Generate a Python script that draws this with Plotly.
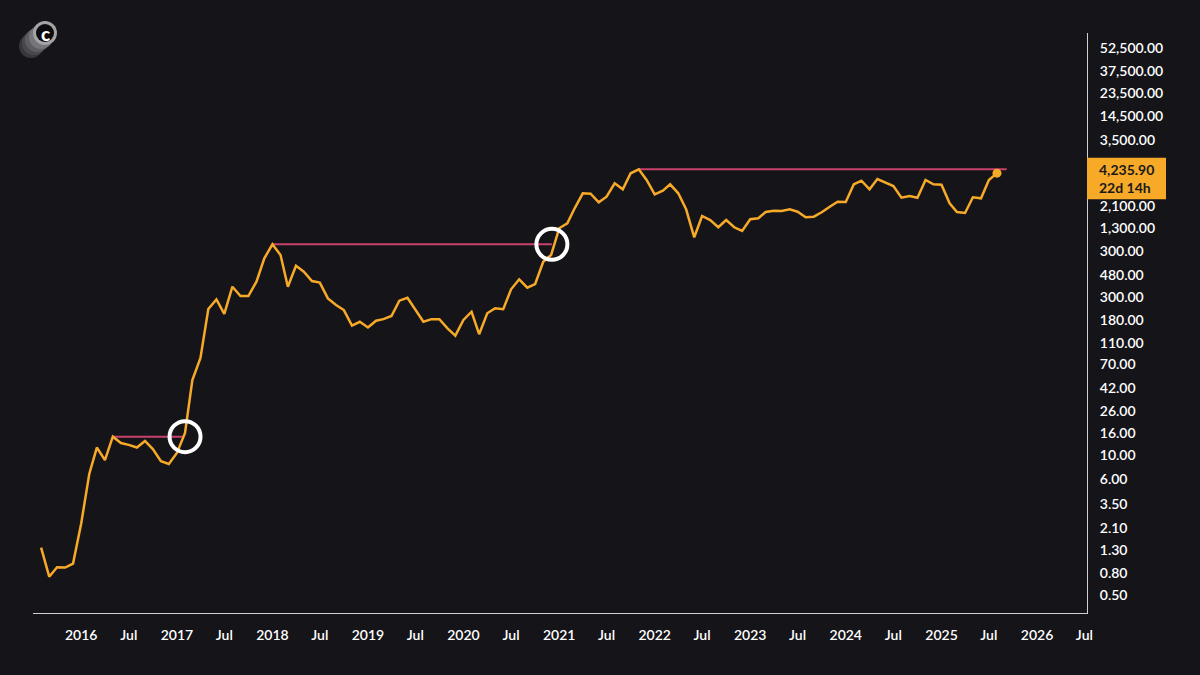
import plotly.graph_objects as go
import pandas as pd
import numpy as np

# ---------------- data (monthly closes) ----------------
start_month = "2015-08-01"
price = [
    # 2015 Aug-Dec
    1.38, 0.74, 0.905, 0.90, 0.98,
    # 2016
    2.3, 6.7, 11.8, 9.0, 14.9, 13.0, 12.5, 11.8, 13.6, 11.4, 8.8, 8.3,
    # 2017
    10.5, 16.1, 50.2, 80.5, 230, 283, 207, 371, 304, 304, 413, 682,
    # 2018
    921, 732, 371, 582, 512, 419, 405, 289, 251, 225, 161, 175,
    # 2019
    155, 179, 185, 198, 275, 293, 225, 175, 185, 185, 152, 130,
    # 2020
    182, 217, 134, 210, 234, 229, 351, 435, 363, 393, 634, 732,
    # 2021
    1298, 1445, 1994, 2750, 2725, 2267, 2557, 3408, 2997, 4224, 4601, 3658,
    # 2022
    2692, 2908, 3335, 2750, 1952, 1071, 1690, 1551, 1327, 1551, 1327, 1226,
    # 2023
    1575, 1609, 1842, 1894, 1882, 1952, 1854, 1644, 1665, 1830, 2063, 2297,
    # 2024
    2282, 3335, 3603, 2997, 3737, 3452, 3217, 2503, 2596, 2503, 3658, 3335,
    # 2025 Jan-Aug
    3306, 2219, 1842, 1803, 2524, 2471, 3658, 4235.90,
]
dates = pd.date_range(start_month, periods=len(price), freq="MS")

last_price_text = "4,235.90"
countdown_text = "22d 14h"

x_tick_dates = ["2016-01-01", "2016-07-01", "2017-01-01", "2017-07-01", "2018-01-01",
                "2018-07-01", "2019-01-01", "2019-07-01", "2020-01-01", "2020-07-01",
                "2021-01-01", "2021-07-01", "2022-01-01", "2022-07-01", "2023-01-01",
                "2023-07-01", "2024-01-01", "2024-07-01", "2025-01-01", "2025-07-01",
                "2026-01-01", "2026-07-01"]
x_tick_text = ["2016", "Jul", "2017", "Jul", "2018", "Jul", "2019", "Jul", "2020", "Jul",
               "2021", "Jul", "2022", "Jul", "2023", "Jul", "2024", "Jul", "2025", "Jul",
               "2026", "Jul"]

y_tick_vals = [0.5, 0.8, 1.3, 2.1, 3.5, 6, 10, 16, 26, 42, 70, 110, 180, 300, 480,
               800, 1300, 2100, 8600, 14500, 23500, 37500, 62000]
y_tick_text = ["0.50", "0.80", "1.30", "2.10", "3.50", "6.00", "10.00", "16.00", "26.00",
               "42.00", "70.00", "110.00", "180.00", "300.00", "480.00", "300.00",
               "1,300.00", "2,100.00", "3,500.00", "14,500.00", "23,500.00",
               "37,500.00", "52,500.00"]

resistance_start = ["2016-05-01", "2018-01-01", "2021-11-01"]
resistance_end = ["2017-01-25", "2020-12-04", "2025-09-07"]
resistance_level = [14.9, 921, 4601]

breakout_date = ["2017-02-01", "2020-12-04"]
breakout_level = [14.9, 921]

# ---------------- style ----------------
BG = "#151419"
ORANGE = "#f7a928"
PINK = "#c8406c"
AXIS = "#d0d0d4"
FONT = "Lato"
Y_RANGE = [-0.4689, 4.932]

fig = go.Figure()

for s, e, lv in zip(resistance_start, resistance_end, resistance_level):
    fig.add_trace(go.Scatter(x=[s, e], y=[lv, lv], mode="lines",
                             line=dict(color=PINK, width=2), hoverinfo="skip",
                             showlegend=False))

fig.add_trace(go.Scatter(x=dates, y=price, mode="lines",
                         line=dict(color=ORANGE, width=2.5), showlegend=False))

fig.add_trace(go.Scatter(x=[dates[-1]], y=[price[-1]], mode="markers",
                         marker=dict(color=ORANGE, size=9), showlegend=False))

fig.add_trace(go.Scatter(x=breakout_date, y=breakout_level, mode="markers",
                         marker=dict(symbol="circle-open", size=31, color="white",
                                     line=dict(color="white", width=4)),
                         showlegend=False))

# price box on the right axis (anchored at the last price, in paper units)
ylog_last = float(np.log10(price[-1]))
last_paper = (ylog_last - Y_RANGE[0]) / (Y_RANGE[1] - Y_RANGE[0])
fig.add_shape(type="rect", xref="paper", xsizemode="pixel", xanchor=1, x0=0, x1=79,
              yref="paper", ysizemode="pixel", yanchor=last_paper, y0=-26, y1=15.5,
              fillcolor=ORANGE, line=dict(width=0), layer="above")
fig.add_annotation(xref="paper", x=1, xanchor="left", xshift=10,
                   yref="paper", y=last_paper, yanchor="middle", yshift=-5,
                   text=f"{last_price_text}<br>{countdown_text}", showarrow=False,
                   align="left", font=dict(family=FONT, size=14, color="#1a1a1a",
                                           weight=700))

# logo (stacked coin) in the top-left corner
logo_discs = [(-2, -13, "#38383c"), (1, -10, "#48484d"), (4, -7, "#5c5c61"),
              (8, -4, "#75757a"), (12, 0, "#a3a3a8")]
for dx, dy, col in logo_discs:
    fig.add_shape(type="circle", xref="paper", xsizemode="pixel", xanchor=0,
                  x0=dx - 12, x1=dx + 12, yref="paper", ysizemode="pixel", yanchor=1,
                  y0=dy - 12, y1=dy + 12, fillcolor=col, line=dict(width=0))
fig.add_shape(type="circle", xref="paper", xsizemode="pixel", xanchor=0,
              x0=12 - 9, x1=12 + 9, yref="paper", ysizemode="pixel", yanchor=1,
              y0=-9, y1=9, fillcolor="#0c0c0f", line=dict(width=0))
fig.add_annotation(xref="paper", x=0, xshift=12, yref="paper", y=1, yshift=0,
                   xanchor="center", yanchor="middle", text="c", showarrow=False,
                   font=dict(family=FONT, size=19, color="white", weight=900))

fig.update_layout(
    width=1200, height=675,
    margin=dict(l=33, r=113, t=33, b=62),
    paper_bgcolor=BG, plot_bgcolor=BG,
    font=dict(family=FONT, color="white", size=14),
    showlegend=False,
    xaxis=dict(type="date", range=["2015-07-01", "2026-07-11"],
               tickvals=x_tick_dates, ticktext=x_tick_text,
               showgrid=False, zeroline=False, showline=True, linecolor=AXIS,
               linewidth=1, ticks="", ticklabelstandoff=9,
               tickfont=dict(family=FONT, size=14, color="white", weight=600)),
    yaxis=dict(type="log", side="right", range=Y_RANGE,
               tickvals=y_tick_vals, ticktext=y_tick_text,
               showgrid=False, zeroline=False, showline=True, linecolor=AXIS,
               linewidth=1, ticks="", ticklabelstandoff=9,
               tickfont=dict(family=FONT, size=14, color="white", weight=600)),
)

fig.write_html("out.html", config={"displayModeBar": False},
               post_script="document.body.style.margin='0';")
